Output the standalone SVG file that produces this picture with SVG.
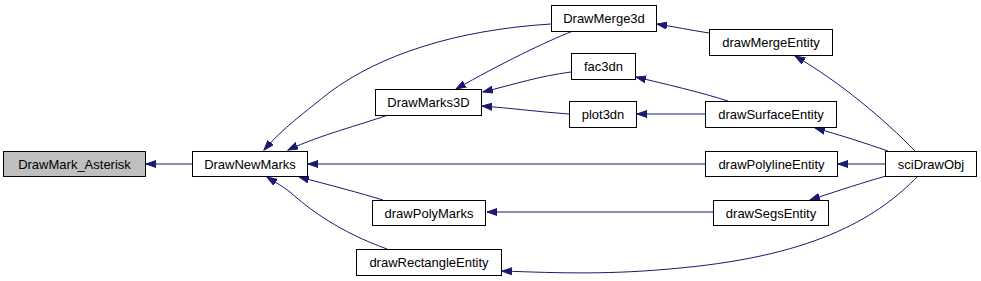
<svg xmlns="http://www.w3.org/2000/svg" width="981" height="281" viewBox="0 0 981 281">
<style>
.n rect{fill:#fff;stroke:#000;stroke-width:1}
.n.h rect{fill:#bfbfbf}
.n text{font-family:"Liberation Sans",Arial,sans-serif;font-size:13px;text-anchor:middle;fill:#000}
.e path{fill:none;stroke:#191970;stroke-width:1;marker-end:url(#a)}
</style>
<defs>
<marker id="a" markerUnits="userSpaceOnUse" markerWidth="11" markerHeight="8" refX="10" refY="4" orient="auto" viewBox="0 0 11 8">
<path d="M0,0.5 L10,4 L0,7.5 z" fill="#191970" stroke="#191970"/>
</marker>
</defs>
<rect width="981" height="281" fill="#fff"/>
<g class="e">
<path d="M192,164 L146,164"/>
<path d="M551,24 C455,30 380,55 330,92 C305,112 283,128 264,150"/>
<path d="M573,31 C545,42 500,64 456,89"/>
<path d="M388,115 C360,125 320,135 288,150"/>
<path d="M571,72 C540,76 515,84 483,92"/>
<path d="M569,114 C540,112 510,108 482,106"/>
<path d="M709,33 C690,30 675,27 657,24"/>
<path d="M728,101 C700,92 665,84 636,77"/>
<path d="M705,114 L637,114"/>
<path d="M915,151 C885,120 840,82 795,56"/>
<path d="M888,151 C865,143 840,135 815,128"/>
<path d="M885,164 L838,164"/>
<path d="M886,176 C865,182 840,190 810,200"/>
<path d="M918,176 C880,215 820,255 680,268 C610,275 560,273 502,271"/>
<path d="M705,164 L308,164"/>
<path d="M383,200 C360,193 330,185 299,177"/>
<path d="M713,212 L487,212"/>
<path d="M387,249 C340,232 310,210 290,192 C282,186 275,182 267,177"/>
</g>
<g id="DrawMark_Asterisk" class="n h"><rect x="3.5" y="151.5" width="142" height="25"/><text x="74.5" y="168.5">DrawMark_Asterisk</text></g>
<g id="DrawNewMarks" class="n"><rect x="192.5" y="151.5" width="115" height="25"/><text x="250" y="168.5">DrawNewMarks</text></g>
<g id="DrawMarks3D" class="n"><rect x="375.5" y="89.5" width="106" height="26"/><text x="428.5" y="107">DrawMarks3D</text></g>
<g id="DrawMerge3d" class="n"><rect x="551.5" y="5.5" width="105" height="26"/><text x="604" y="23">DrawMerge3d</text></g>
<g id="fac3dn" class="n"><rect x="571.5" y="53.5" width="64" height="26"/><text x="603.5" y="71">fac3dn</text></g>
<g id="plot3dn" class="n"><rect x="569.5" y="101.5" width="67" height="26"/><text x="603" y="119">plot3dn</text></g>
<g id="drawMergeEntity" class="n"><rect x="709.5" y="29.5" width="123" height="26"/><text x="771" y="47">drawMergeEntity</text></g>
<g id="drawSurfaceEntity" class="n"><rect x="705.5" y="101.5" width="131" height="26"/><text x="771" y="119">drawSurfaceEntity</text></g>
<g id="drawPolylineEntity" class="n"><rect x="705.5" y="151.5" width="132" height="25"/><text x="771.5" y="168.5">drawPolylineEntity</text></g>
<g id="sciDrawObj" class="n"><rect x="885.5" y="151.5" width="91" height="25"/><text x="931" y="168.5">sciDrawObj</text></g>
<g id="drawSegsEntity" class="n"><rect x="713.5" y="200.5" width="115" height="25"/><text x="771" y="217.5">drawSegsEntity</text></g>
<g id="drawPolyMarks" class="n"><rect x="372.5" y="200.5" width="113" height="25"/><text x="429" y="217.5">drawPolyMarks</text></g>
<g id="drawRectangleEntity" class="n"><rect x="356.5" y="249.5" width="145" height="26"/><text x="429" y="267">drawRectangleEntity</text></g>
</svg>
